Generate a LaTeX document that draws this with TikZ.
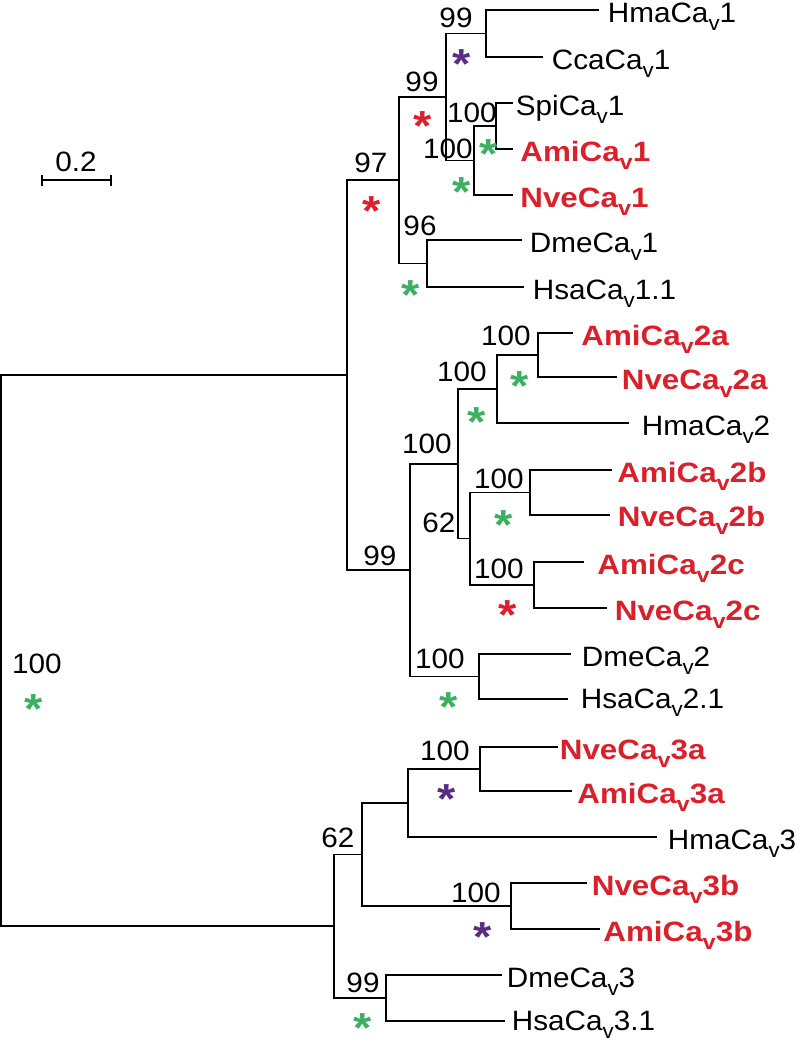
\documentclass[tikz,border=0pt]{standalone}
\usepackage{fontspec}
\setmainfont{Liberation Sans}[FakeStretch=1.06, BoldFeatures={FakeStretch=1.12}]
\definecolor{tred}{RGB}{217,32,43}
\definecolor{tgreen}{RGB}{60,176,96}
\definecolor{tpurple}{RGB}{91,45,130}
\newcommand{\cav}[1]{Ca\raisebox{-4pt}{\fontsize{10.5pt}{12pt}\selectfont v}#1}
\newcommand{\starmark}{\raisebox{-11.8pt}{*}}
\begin{document}
\begin{tikzpicture}[x=0.5pt,y=-0.5pt,
  br/.style={draw=black, line width=0.7pt},
  leaf/.style={anchor=base west, inner sep=0pt, font=\fontsize{14pt}{16pt}\selectfont},
  rleaf/.style={leaf, text=tred, font=\fontsize{14pt}{16pt}\selectfont\bfseries},
  bsv/.style={anchor=base, inner sep=0pt, font=\fontsize{14pt}{16pt}\selectfont},
  astx/.style={anchor=center, inner sep=0pt, text height=4pt, text depth=4pt, font=\fontsize{21pt}{24pt}\selectfont\bfseries}]
\useasboundingbox (0,0) rectangle (800,1039);
% scale bar
\coordinate (sbL) at (42,180);
\coordinate (sbR) at (111,180);
\draw[br] (sbL) -- (sbR);
\draw[br] (42,175) -- (42,186);
\draw[br] (111,175) -- (111,186);
\node[bsv] (sblab) at (76,171) {0.2};
% leaf line ends
\coordinate (eHma1) at (599,10);
\coordinate (eCca1) at (543,57);
\coordinate (eSpi1) at (513,103);
\coordinate (eAmi1) at (513,149);
\coordinate (eNve1) at (513,195);
\coordinate (eDme1) at (522,240);
\coordinate (eHsa1) at (524,287);
\coordinate (eAmi2a) at (573,333);
\coordinate (eNve2a) at (617,377);
\coordinate (eHma2) at (629,423);
\coordinate (eAmi2b) at (612,470);
\coordinate (eNve2b) at (610,515);
\coordinate (eAmi2c) at (584,562);
\coordinate (eNve2c) at (607,608);
\coordinate (eDme2) at (571,654);
\coordinate (eHsa2) at (568,699);
\coordinate (eNve3a) at (558,747);
\coordinate (eAmi3a) at (572,791);
\coordinate (eHma3) at (657,837);
\coordinate (eNve3b) at (587,883);
\coordinate (eAmi3b) at (600,929);
\coordinate (eDme3) at (502,975);
\coordinate (eHsa3) at (505,1021);
% leaf labels
\node[leaf] (Hma1) at (607.5,22) {Hma\cav{1}};
\node[leaf] (Cca1) at (551.5,69) {Cca\cav{1}};
\node[leaf] (Spi1) at (515.5,115) {Spi\cav{1}};
\node[rleaf] (Ami1) at (520,161) {Ami\cav{1}};
\node[rleaf] (Nve1) at (520,207) {Nve\cav{1}};
\node[leaf] (Dme1) at (529.5,252) {Dme\cav{1}};
\node[leaf] (Hsa1) at (532.5,299) {Hsa\cav{1.1}};
\node[rleaf] (Ami2a) at (581,345) {Ami\cav{2a}};
\node[rleaf] (Nve2a) at (621.5,389) {Nve\cav{2a}};
\node[leaf] (Hma2) at (641.5,435) {Hma\cav{2}};
\node[rleaf] (Ami2b) at (617,482) {Ami\cav{2b}};
\node[rleaf] (Nve2b) at (617.5,526) {Nve\cav{2b}};
\node[rleaf] (Ami2c) at (597,574) {Ami\cav{2c}};
\node[rleaf] (Nve2c) at (614.5,620) {Nve\cav{2c}};
\node[leaf] (Dme2) at (581.5,666) {Dme\cav{2}};
\node[leaf] (Hsa2) at (580.5,708) {Hsa\cav{2.1}};
\node[rleaf] (Nve3a) at (559.5,759) {Nve\cav{3a}};
\node[rleaf] (Ami3a) at (577,803) {Ami\cav{3a}};
\node[leaf] (Hma3) at (667.5,849) {Hma\cav{3}};
\node[rleaf] (Nve3b) at (591.5,895) {Nve\cav{3b}};
\node[rleaf] (Ami3b) at (603,941) {Ami\cav{3b}};
\node[leaf] (Dme3) at (506.5,987) {Dme\cav{3}};
\node[leaf] (Hsa3) at (511.5,1030) {Hsa\cav{3.1}};
% internal nodes
\coordinate (nA) at (486,33.5);
\coordinate (nB) at (496,126);
\coordinate (nC) at (474,160.5);
\coordinate (nD) at (446,97);
\coordinate (nE) at (427,263.5);
\coordinate (nF) at (399,180);
\coordinate (nG) at (538,355);
\coordinate (nH) at (497,389);
\coordinate (nI) at (530,492.5);
\coordinate (nJ) at (534,585);
\coordinate (nK) at (470,538.5);
\coordinate (nL) at (458,464);
\coordinate (nM) at (479,676.5);
\coordinate (nN) at (410,570);
\coordinate (nO) at (347,375);
\coordinate (nP) at (480,769);
\coordinate (nQ) at (408,803);
\coordinate (nR) at (511,906);
\coordinate (nS) at (362,854.5);
\coordinate (nT) at (386,998);
\coordinate (nU) at (334,926);
\coordinate (root) at (1,650.5);
% branches
\draw[br] (nA) |- (eHma1);
\draw[br] (nA) |- (eCca1);
\draw[br] (nB) |- (eSpi1);
\draw[br] (nB) |- (eAmi1);
\draw[br] (nC) |- (nB);
\draw[br] (nC) |- (eNve1);
\draw[br] (nD) |- (nA);
\draw[br] (nD) |- (nC);
\draw[br] (nE) |- (eDme1);
\draw[br] (nE) |- (eHsa1);
\draw[br] (nF) |- (nD);
\draw[br] (nF) |- (nE);
\draw[br] (nG) |- (eAmi2a);
\draw[br] (nG) |- (eNve2a);
\draw[br] (nH) |- (nG);
\draw[br] (nH) |- (eHma2);
\draw[br] (nI) |- (eAmi2b);
\draw[br] (nI) |- (eNve2b);
\draw[br] (nJ) |- (eAmi2c);
\draw[br] (nJ) |- (eNve2c);
\draw[br] (nK) |- (nI);
\draw[br] (nK) |- (nJ);
\draw[br] (nL) |- (nH);
\draw[br] (nL) |- (nK);
\draw[br] (nM) |- (eDme2);
\draw[br] (nM) |- (eHsa2);
\draw[br] (nN) |- (nL);
\draw[br] (nN) |- (nM);
\draw[br] (nO) |- (nF);
\draw[br] (nO) |- (nN);
\draw[br] (nP) |- (eNve3a);
\draw[br] (nP) |- (eAmi3a);
\draw[br] (nQ) |- (nP);
\draw[br] (nQ) |- (eHma3);
\draw[br] (nR) |- (eNve3b);
\draw[br] (nR) |- (eAmi3b);
\draw[br] (nS) |- (nQ);
\draw[br] (nS) |- (nR);
\draw[br] (nT) |- (eDme3);
\draw[br] (nT) |- (eHsa3);
\draw[br] (nU) |- (nS);
\draw[br] (nU) |- (nT);
\draw[br] (root) |- (nO);
\draw[br] (root) |- (nU);
% bootstrap values
\node[bsv] (bA) at (456,27) {99};
\node[bsv] (bD) at (422,91) {99};
\node[bsv] (bB) at (472,122) {100};
\node[bsv] (bC) at (448,158) {100};
\node[bsv] (bO) at (371,172) {97};
\node[bsv] (bE) at (420,235) {96};
\node[bsv] (bG) at (506,345) {100};
\node[bsv] (bH) at (462,381) {100};
\node[bsv] (bL) at (427,453) {100};
\node[bsv] (bI) at (499,488) {100};
\node[bsv] (bK) at (439,532) {62};
\node[bsv] (bN) at (380,565) {99};
\node[bsv] (bJ) at (499,578) {100};
\node[bsv] (bM) at (440,668) {100};
\node[bsv] (bP) at (445,760) {100};
\node[bsv] (bS) at (338,847) {62};
\node[bsv] (bR) at (476,902) {100};
\node[bsv] (bT) at (363,992) {99};
\node[bsv] (broot) at (37,673) {100};
% asterisks
\node[astx, text=tpurple] (sA) at (462,55) {\starmark};
\node[astx, text=tred] (sD) at (423,117) {\starmark};
\node[astx, text=tgreen] (sB) at (489,145) {\starmark};
\node[astx, text=tgreen] (sC) at (462,183) {\starmark};
\node[astx, text=tred] (sO) at (372,202) {\starmark};
\node[astx, text=tgreen] (sE) at (411,286) {\starmark};
\node[astx, text=tgreen] (sG) at (520,377) {\starmark};
\node[astx, text=tgreen] (sH) at (477,413) {\starmark};
\node[astx, text=tgreen] (sI) at (504,516) {\starmark};
\node[astx, text=tred] (sJ) at (508,606) {\starmark};
\node[astx, text=tgreen] (sM) at (449,698) {\starmark};
\node[astx, text=tpurple] (sP) at (447,790) {\starmark};
\node[astx, text=tpurple] (sR) at (483,928) {\starmark};
\node[astx, text=tgreen] (sT) at (363,1019) {\starmark};
\node[astx, text=tgreen] (sroot) at (34,700) {\starmark};
\end{tikzpicture}
\end{document}
